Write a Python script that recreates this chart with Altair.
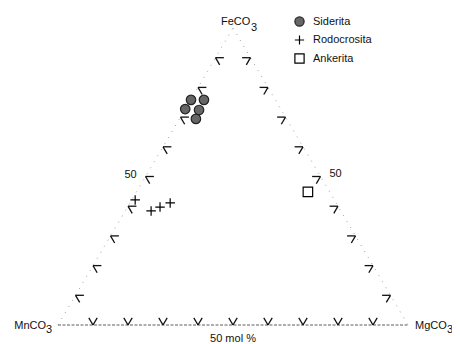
import altair as alt
import pandas as pd

# ---------------- data ----------------
series_names = ["Siderita", "Rodocrosita", "Ankerita"]
# compositions (mole fractions): FeCO3, MgCO3  (MnCO3 = 1 - Fe - Mg)
sid_fe = [0.758, 0.758, 0.727, 0.724, 0.694]
sid_mg = [0.001, 0.038, 0.000, 0.041, 0.047]
rod_fe = [0.421, 0.384, 0.397, 0.411]
rod_mg = [0.010, 0.074, 0.093, 0.115]
ank_fe = [0.448]
ank_mg = [0.490]
tick_values = [0.1, 0.2, 0.3, 0.4, 0.5, 0.6, 0.7, 0.8, 0.9]
TL = 0.024  # tick length (composition units)


def cart(fe, mg):
    return mg + fe / 2.0, fe


rows = []
for name, fes, mgs in [("Siderita", sid_fe, sid_mg), ("Rodocrosita", rod_fe, rod_mg), ("Ankerita", ank_fe, ank_mg)]:
    for fe, mg in zip(fes, mgs):
        u, v = cart(fe, mg)
        rows.append({"u": u, "v": v, "serie": name})
pts = pd.DataFrame(rows)

# triangle edges
def seg(fe1, mg1, fe2, mg2):
    u1, v1 = cart(fe1, mg1)
    u2, v2 = cart(fe2, mg2)
    return {"u": u1, "v": v1, "u2": u2, "v2": v2}

sides = pd.DataFrame([seg(0, 0, 1, 0), seg(1, 0, 0, 1)])
base = pd.DataFrame([seg(0, 0, 0, 1)])

ticks = []
for f in tick_values:
    # left edge (Mg = 0)
    ticks.append(seg(f, 0, f, TL))
    ticks.append(seg(f, 0, f - TL, TL))
    # right edge (Mn = 0)
    ticks.append(seg(f, 1 - f, f, 1 - f - TL))
    ticks.append(seg(f, 1 - f, f - TL, 1 - f))
    # bottom edge (Fe = 0)
    ticks.append(seg(0, f, TL, f - TL))
    ticks.append(seg(0, f, TL, f))
ticks = pd.DataFrame(ticks)

H = 336
xs = alt.Scale(domain=[-50 / 350, 394 / 350], nice=False, zero=False)
ys = alt.Scale(domain=[-(H - 317) / 297, 317 / 297], nice=False, zero=False)
X = alt.X("u:Q", scale=xs, axis=None)
Y = alt.Y("v:Q", scale=ys, axis=None)

FONT = "Liberation Sans"

side_layer = alt.Chart(sides).mark_rule(color="#a0a0a0", strokeWidth=1, strokeDash=[1, 6]).encode(
    x=X, y=Y, x2="u2:Q", y2="v2:Q")
base_layer = alt.Chart(base).mark_rule(color="#333333", strokeWidth=0.8, strokeDash=[3, 1.5]).encode(
    x=X, y=Y, x2="u2:Q", y2="v2:Q")
tick_layer = alt.Chart(ticks).mark_rule(color="#111111", strokeWidth=1.3).encode(
    x=X, y=Y, x2="u2:Q", y2="v2:Q")

point_layer = alt.Chart(pts).mark_point(size=90, strokeWidth=1.2, opacity=1).encode(
    x=X, y=Y,
    shape=alt.Shape("serie:N", scale=alt.Scale(domain=series_names,
                    range=["circle", "M-1,0L1,0M0,-1L0,1", "square"]),
                    legend=alt.Legend(title=None, orient="none", legendX=286, legendY=8,
                                      labelFont=FONT, labelFontSize=11, labelColor="#111",
                                      symbolSize=85, symbolStrokeWidth=1.2, rowPadding=3.5,
                                      labelOffset=8)),
    fill=alt.Fill("serie:N", scale=alt.Scale(domain=series_names,
                  range=["#666666", "transparent", "transparent"])),
    stroke=alt.Stroke("serie:N", scale=alt.Scale(domain=series_names,
                      range=["#222222", "#000000", "#000000"])),
)

def label(u, v, text, dx, dy, align="left", size=11):
    d = pd.DataFrame({"u": [u], "v": [v], "t": [text]})
    return alt.Chart(d).mark_text(font=FONT, fontSize=size, align=align, baseline="alphabetic",
                                  dx=dx, dy=dy, color="#111").encode(x=X, y=Y, text="t:N")

labels = [
    label(0.5, 1, "FeCO", -12, -3),
    label(0.5, 1, "3", 18, 3),
    label(0, 0, "MnCO", -12, 4, align="right"),
    label(0, 0, "3", -12, 8),
    label(1, 0, "MgCO", 7, 4),
    label(1, 0, "3", 39, 8),
    label(0.25, 0.5, "50", -15, 1, align="center"),
    label(0.75, 0.5, "50", 15, 0, align="center"),
    label(0.5, 0, "50 mol %", 0, 17, align="center"),
]

chart = alt.layer(side_layer, base_layer, tick_layer, point_layer, *labels).properties(
    width=444, height=H, padding=0,
    autosize=alt.AutoSizeParams(type="none"),
).configure_view(stroke=None)

chart.save("out.html", embed_options={"renderer": "svg", "actions": False})
